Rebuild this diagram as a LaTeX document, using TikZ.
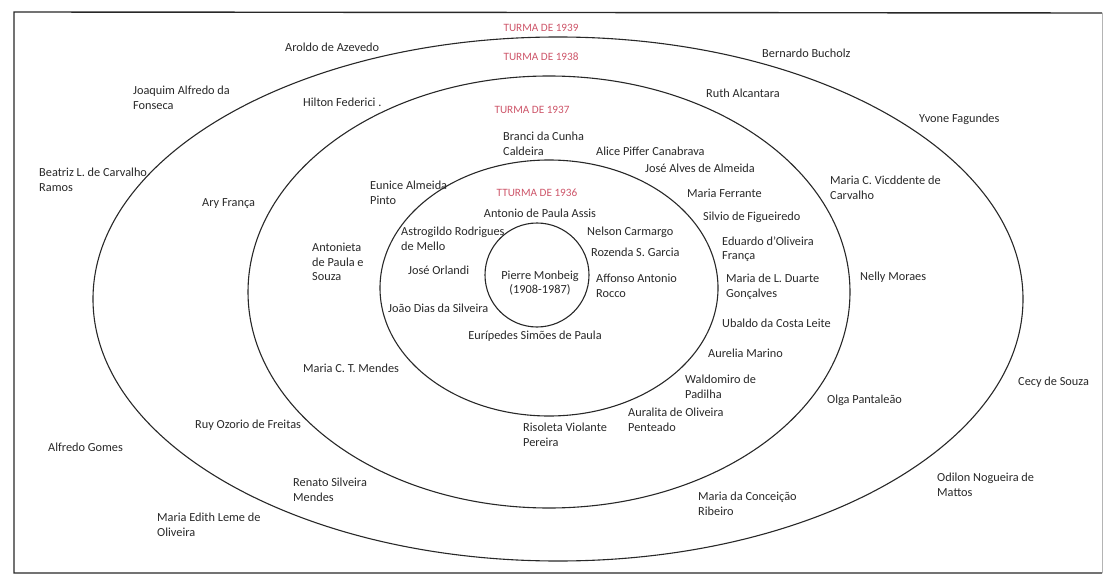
\documentclass[tikz,border=0pt]{standalone}
\usepackage{fontspec}
\setmainfont{Carlito}
\definecolor{ink}{RGB}{40,40,40}
\definecolor{turma}{RGB}{205,85,105}
\begin{document}
\begin{tikzpicture}[x=1pt,y=-1pt,
  person/.style={anchor=west, align=left, inner sep=0pt, text=ink,
    font=\fontsize{12.3}{14.5}\selectfont},
  cperson/.style={person, anchor=center, align=center},
  turmalbl/.style={anchor=center, inner sep=0pt, text=turma,
    font=\fontsize{11.2}{13}\selectfont},
  ring/.style={draw=ink, line width=1.1pt},
  frame/.style={draw=ink, line width=1.4pt}]
\useasboundingbox (0,0) rectangle (1105,580);

% outer frame (right side printed faintly)
\coordinate (tl) at (14,12);
\coordinate (tr) at (1102,13);
\coordinate (br) at (1102,573);
\coordinate (bl) at (14,573);
\draw[frame] (tr) -- (tl) -- (bl) -- (br);
\draw[draw=ink!35, line width=0.9pt] (tr) -- (br);

% concentric class rings
\draw[ring] (558,299) ellipse [x radius=465pt, y radius=262pt];
\draw[ring] (549,292) ellipse [x radius=301pt, y radius=216pt];
\draw[ring] (549,288) ellipse [x radius=169pt, y radius=128pt];
\draw[ring] (537,275) circle [radius=52pt];

% class titles
\node[turmalbl] (t1939) at (541,28) {TURMA DE 1939};
\node[turmalbl] (t1938) at (541,57) {TURMA DE 1938};
\node[turmalbl] (t1937) at (532,110) {TURMA DE 1937};
\node[turmalbl] (t1936) at (537,193) {TTURMA DE 1936};

% centre
\node[cperson] (pierre) at (540,283) {Pierre Monbeig\\(1908-1987)};

% class of 1936
\node[cperson] (antonio) at (540,213) {Antonio de Paula Assis};
\node[person] (astrogildo) at (401,239) {Astrogildo Rodrigues\\de Mello};
\node[person] (nelson) at (587,232) {Nelson Carmargo};
\node[person] (rozenda) at (591,252) {Rozenda S. Garcia};
\node[person] (orlandi) at (408,270) {José Orlandi};
\node[person] (affonso) at (596,286) {Affonso Antonio\\Rocco};
\node[person] (joao) at (388,308) {João Dias da Silveira};
\node[cperson] (euripedes) at (535,336) {Eurípedes Simões de Paula};

% class of 1937
\node[person] (branci) at (503,144) {Branci da Cunha\\Caldeira};
\node[person] (alice) at (596,151) {Alice Piffer Canabrava};
\node[person] (josealves) at (645,168) {José Alves de Almeida};
\node[person] (eunice) at (370,193) {Eunice Almeida\\Pinto};
\node[person] (mariaf) at (687,193) {Maria Ferrante};
\node[person] (silvio) at (703,217) {Silvio de Figueiredo};
\node[person] (eduardo) at (722,249) {Eduardo d'Oliveira\\França};
\node[person] (antonieta) at (312,262) {Antonieta\\de Paula e\\Souza};
\node[person] (mariald) at (726,287) {Maria de L. Duarte\\Gonçalves};
\node[person] (ubaldo) at (722,323) {Ubaldo da Costa Leite};
\node[person] (aurelia) at (708,353) {Aurelia Marino};
\node[person] (mariact) at (303,368) {Maria C. T. Mendes};
\node[person] (waldomiro) at (685,387) {Waldomiro de\\Padilha};
\node[person] (auralita) at (628,420) {Auralita de Oliveira\\Penteado};
\node[person] (risoleta) at (523,435) {Risoleta Violante\\Pereira};

% class of 1938
\node[person] (hilton) at (303,102) {Hilton Federici .};
\node[person] (ruth) at (706,93) {Ruth Alcantara};
\node[person] (mariacv) at (830,188) {Maria C. Vicddente de\\Carvalho};
\node[person] (ary) at (202,204) {Ary França};
\node[person] (nelly) at (860,277) {Nelly Moraes};
\node[person] (olga) at (827,400) {Olga Pantaleão};
\node[person] (ruy) at (195,425) {Ruy Ozorio de Freitas};
\node[person] (renato) at (293,490) {Renato Silveira\\Mendes};
\node[person] (mariacr) at (698,504) {Maria da Conceição\\Ribeiro};

% class of 1939
\node[person] (aroldo) at (285,47) {Aroldo de Azevedo};
\node[person] (bernardo) at (762,53) {Bernardo Bucholz};
\node[person] (joaquim) at (133,98) {Joaquim Alfredo da\\Fonseca};
\node[person] (yvone) at (919,119) {Yvone Fagundes};
\node[person] (beatriz) at (39,180) {Beatriz L. de Carvalho\\Ramos};
\node[person] (cecy) at (1018,382) {Cecy de Souza};
\node[person] (alfredo) at (48,447) {Alfredo Gomes};
\node[person] (odilon) at (937,485) {Odilon Nogueira de\\Mattos};
\node[person] (mariael) at (157,525) {Maria Edith Leme de\\Oliveira};
\end{tikzpicture}
\end{document}
